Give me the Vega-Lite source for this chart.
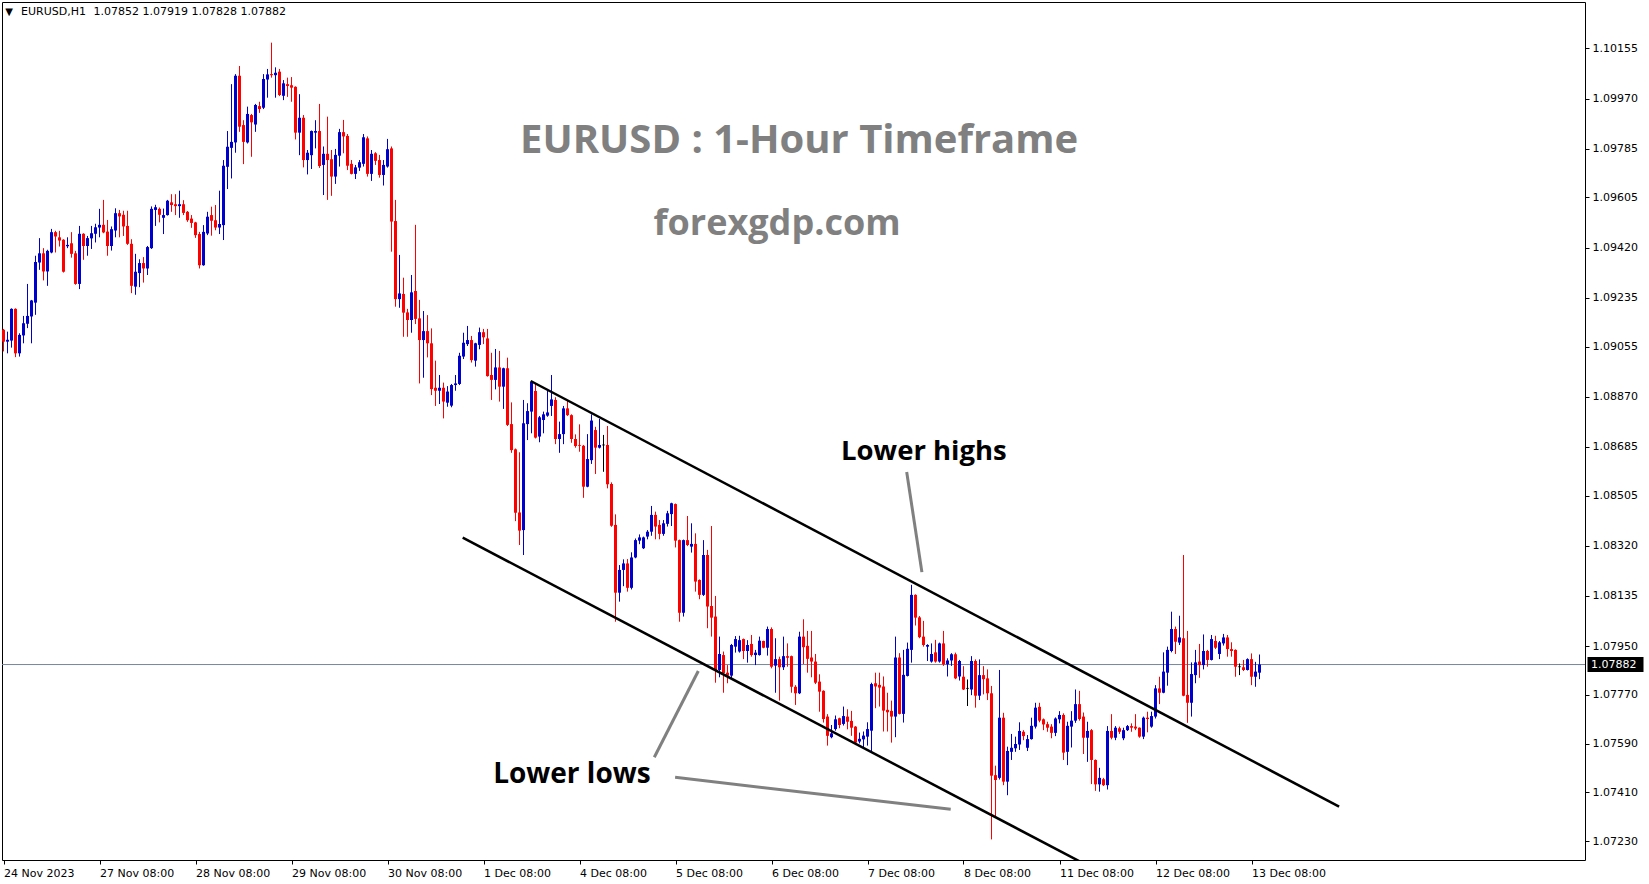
{
"$schema": "https://vega.github.io/schema/vega-lite/v6.json",
"width": 1583, "height": 858,
"autosize": {"type": "none"},
"padding": {"left": 2, "top": 2, "right": 64, "bottom": 24},
"background": "white",
"config": {"view": {"stroke": "black", "strokeWidth": 1}, "scale": {"continuousPadding": 0}},
"datasets": {
"candles": [
{"i":0,"o":1.09117,"h":1.09120,"l":1.09037,"c":1.09073},
{"i":1,"o":1.09073,"h":1.09110,"l":1.09030,"c":1.09080},
{"i":2,"o":1.09077,"h":1.09196,"l":1.09051,"c":1.09194},
{"i":3,"o":1.09194,"h":1.09196,"l":1.09016,"c":1.09030},
{"i":4,"o":1.09030,"h":1.09104,"l":1.09018,"c":1.09098},
{"i":5,"o":1.09096,"h":1.09168,"l":1.09067,"c":1.09141},
{"i":6,"o":1.09139,"h":1.09286,"l":1.09123,"c":1.09168},
{"i":7,"o":1.09166,"h":1.09227,"l":1.09067,"c":1.09225},
{"i":8,"o":1.09217,"h":1.09390,"l":1.09172,"c":1.09367},
{"i":9,"o":1.09365,"h":1.09455,"l":1.09338,"c":1.09399},
{"i":10,"o":1.09399,"h":1.09418,"l":1.09299,"c":1.09332},
{"i":11,"o":1.09332,"h":1.09412,"l":1.09279,"c":1.09408},
{"i":12,"o":1.09402,"h":1.09489,"l":1.09399,"c":1.09477},
{"i":13,"o":1.09477,"h":1.09482,"l":1.09402,"c":1.09461},
{"i":14,"o":1.09458,"h":1.09482,"l":1.09424,"c":1.09446},
{"i":15,"o":1.09449,"h":1.09451,"l":1.09328,"c":1.09331},
{"i":16,"o":1.09425,"h":1.09458,"l":1.09418,"c":1.09430},
{"i":17,"o":1.09436,"h":1.09477,"l":1.09383,"c":1.09397},
{"i":18,"o":1.09399,"h":1.09408,"l":1.09283,"c":1.09286},
{"i":19,"o":1.09286,"h":1.09500,"l":1.09267,"c":1.09471},
{"i":20,"o":1.09471,"h":1.09473,"l":1.09375,"c":1.09426},
{"i":21,"o":1.09426,"h":1.09463,"l":1.09390,"c":1.09455},
{"i":22,"o":1.09454,"h":1.09500,"l":1.09415,"c":1.09473},
{"i":23,"o":1.09471,"h":1.09508,"l":1.09439,"c":1.09495},
{"i":24,"o":1.09494,"h":1.09563,"l":1.09458,"c":1.09504},
{"i":25,"o":1.09504,"h":1.09596,"l":1.09473,"c":1.09476},
{"i":26,"o":1.09479,"h":1.09522,"l":1.09390,"c":1.09426},
{"i":27,"o":1.09426,"h":1.09498,"l":1.09409,"c":1.09488},
{"i":28,"o":1.09483,"h":1.09565,"l":1.09458,"c":1.09547},
{"i":29,"o":1.09547,"h":1.09559,"l":1.09458,"c":1.09535},
{"i":30,"o":1.09541,"h":1.09556,"l":1.09463,"c":1.09498},
{"i":31,"o":1.09500,"h":1.09556,"l":1.09430,"c":1.09434},
{"i":32,"o":1.09434,"h":1.09451,"l":1.09252,"c":1.09279},
{"i":33,"o":1.09276,"h":1.09397,"l":1.09246,"c":1.09331},
{"i":34,"o":1.09326,"h":1.09377,"l":1.09274,"c":1.09363},
{"i":35,"o":1.09363,"h":1.09385,"l":1.09291,"c":1.09343},
{"i":36,"o":1.09343,"h":1.09426,"l":1.09319,"c":1.09422},
{"i":37,"o":1.09418,"h":1.09572,"l":1.09415,"c":1.09563},
{"i":38,"o":1.09559,"h":1.09578,"l":1.09500,"c":1.09569},
{"i":39,"o":1.09563,"h":1.09568,"l":1.09513,"c":1.09541},
{"i":40,"o":1.09530,"h":1.09564,"l":1.09470,"c":1.09540},
{"i":41,"o":1.09540,"h":1.09596,"l":1.09538,"c":1.09593},
{"i":42,"o":1.09587,"h":1.09617,"l":1.09552,"c":1.09577},
{"i":43,"o":1.09580,"h":1.09617,"l":1.09540,"c":1.09573},
{"i":44,"o":1.09573,"h":1.09630,"l":1.09530,"c":1.09580},
{"i":45,"o":1.09580,"h":1.09595,"l":1.09540,"c":1.09548},
{"i":46,"o":1.09552,"h":1.09555,"l":1.09515,"c":1.09521},
{"i":47,"o":1.09527,"h":1.09540,"l":1.09493,"c":1.09511},
{"i":48,"o":1.09513,"h":1.09515,"l":1.09456,"c":1.09466},
{"i":49,"o":1.09470,"h":1.09478,"l":1.09343,"c":1.09355},
{"i":50,"o":1.09355,"h":1.09503,"l":1.09353,"c":1.09478},
{"i":51,"o":1.09472,"h":1.09552,"l":1.09466,"c":1.09534},
{"i":52,"o":1.09540,"h":1.09571,"l":1.09464,"c":1.09519},
{"i":53,"o":1.09521,"h":1.09577,"l":1.09484,"c":1.09494},
{"i":54,"o":1.09494,"h":1.09630,"l":1.09470,"c":1.09507},
{"i":55,"o":1.09503,"h":1.09743,"l":1.09448,"c":1.09722},
{"i":56,"o":1.09718,"h":1.09850,"l":1.09636,"c":1.09792},
{"i":57,"o":1.09788,"h":1.10023,"l":1.09675,"c":1.09810},
{"i":58,"o":1.09808,"h":1.10060,"l":1.09770,"c":1.10054},
{"i":59,"o":1.10054,"h":1.10090,"l":1.09847,"c":1.09866},
{"i":60,"o":1.09872,"h":1.09890,"l":1.09728,"c":1.09810},
{"i":61,"o":1.09808,"h":1.09940,"l":1.09804,"c":1.09913},
{"i":62,"o":1.09909,"h":1.09913,"l":1.09755,"c":1.09882},
{"i":63,"o":1.09874,"h":1.09950,"l":1.09847,"c":1.09946},
{"i":64,"o":1.09942,"h":1.09958,"l":1.09917,"c":1.09931},
{"i":65,"o":1.09936,"h":1.10060,"l":1.09931,"c":1.10042},
{"i":66,"o":1.10040,"h":1.10079,"l":1.09973,"c":1.10059},
{"i":67,"o":1.10060,"h":1.10176,"l":1.10047,"c":1.10056},
{"i":68,"o":1.10056,"h":1.10085,"l":1.09973,"c":1.10065},
{"i":69,"o":1.10069,"h":1.10079,"l":1.09979,"c":1.09983},
{"i":70,"o":1.09980,"h":1.10038,"l":1.09964,"c":1.10026},
{"i":71,"o":1.10023,"h":1.10047,"l":1.09976,"c":1.10016},
{"i":72,"o":1.10019,"h":1.10049,"l":1.09958,"c":1.10010},
{"i":73,"o":1.10013,"h":1.10015,"l":1.09819,"c":1.09844},
{"i":74,"o":1.09844,"h":1.09986,"l":1.09761,"c":1.09899},
{"i":75,"o":1.09899,"h":1.09909,"l":1.09716,"c":1.09743},
{"i":76,"o":1.09743,"h":1.09780,"l":1.09690,"c":1.09770},
{"i":77,"o":1.09761,"h":1.09852,"l":1.09710,"c":1.09850},
{"i":78,"o":1.09844,"h":1.09890,"l":1.09786,"c":1.09850},
{"i":79,"o":1.09850,"h":1.09950,"l":1.09714,"c":1.09721},
{"i":80,"o":1.09725,"h":1.09793,"l":1.09614,"c":1.09766},
{"i":81,"o":1.09766,"h":1.09903,"l":1.09596,"c":1.09743},
{"i":82,"o":1.09746,"h":1.09780,"l":1.09611,"c":1.09682},
{"i":83,"o":1.09682,"h":1.09784,"l":1.09655,"c":1.09762},
{"i":84,"o":1.09759,"h":1.09858,"l":1.09719,"c":1.09846},
{"i":85,"o":1.09846,"h":1.09891,"l":1.09768,"c":1.09830},
{"i":86,"o":1.09832,"h":1.09839,"l":1.09706,"c":1.09722},
{"i":87,"o":1.09729,"h":1.09743,"l":1.09690,"c":1.09692},
{"i":88,"o":1.09692,"h":1.09725,"l":1.09673,"c":1.09716},
{"i":89,"o":1.09715,"h":1.09743,"l":1.09703,"c":1.09735},
{"i":90,"o":1.09729,"h":1.09839,"l":1.09719,"c":1.09827},
{"i":91,"o":1.09823,"h":1.09830,"l":1.09682,"c":1.09692},
{"i":92,"o":1.09692,"h":1.09780,"l":1.09666,"c":1.09766},
{"i":93,"o":1.09768,"h":1.09772,"l":1.09725,"c":1.09740},
{"i":94,"o":1.09743,"h":1.09762,"l":1.09678,"c":1.09688},
{"i":95,"o":1.09688,"h":1.09743,"l":1.09649,"c":1.09725},
{"i":96,"o":1.09719,"h":1.09821,"l":1.09715,"c":1.09783},
{"i":97,"o":1.09786,"h":1.09793,"l":1.09405,"c":1.09516},
{"i":98,"o":1.09518,"h":1.09596,"l":1.09202,"c":1.09230},
{"i":99,"o":1.09230,"h":1.09393,"l":1.09198,"c":1.09251},
{"i":100,"o":1.09249,"h":1.09309,"l":1.09091,"c":1.09180},
{"i":101,"o":1.09181,"h":1.09194,"l":1.09091,"c":1.09153},
{"i":102,"o":1.09153,"h":1.09319,"l":1.09106,"c":1.09255},
{"i":103,"o":1.09260,"h":1.09504,"l":1.09138,"c":1.09157},
{"i":104,"o":1.09159,"h":1.09227,"l":1.08919,"c":1.09079},
{"i":105,"o":1.09079,"h":1.09186,"l":1.08940,"c":1.09112},
{"i":106,"o":1.09112,"h":1.09171,"l":1.09015,"c":1.09067},
{"i":107,"o":1.09067,"h":1.09122,"l":1.08876,"c":1.08898},
{"i":108,"o":1.08903,"h":1.09003,"l":1.08836,"c":1.08892},
{"i":109,"o":1.08892,"h":1.08950,"l":1.08843,"c":1.08903},
{"i":110,"o":1.08903,"h":1.08922,"l":1.08790,"c":1.08852},
{"i":111,"o":1.08848,"h":1.08909,"l":1.08833,"c":1.08889},
{"i":112,"o":1.08837,"h":1.08917,"l":1.08831,"c":1.08913},
{"i":113,"o":1.08913,"h":1.08950,"l":1.08892,"c":1.08919},
{"i":114,"o":1.08917,"h":1.09032,"l":1.08913,"c":1.09021},
{"i":115,"o":1.09018,"h":1.09106,"l":1.09009,"c":1.09069},
{"i":116,"o":1.09064,"h":1.09131,"l":1.09057,"c":1.09079},
{"i":117,"o":1.09079,"h":1.09094,"l":1.08996,"c":1.09005},
{"i":118,"o":1.09003,"h":1.09069,"l":1.08981,"c":1.09067},
{"i":119,"o":1.09061,"h":1.09125,"l":1.09045,"c":1.09108},
{"i":120,"o":1.09108,"h":1.09120,"l":1.09064,"c":1.09089},
{"i":121,"o":1.09085,"h":1.09120,"l":1.08944,"c":1.08946},
{"i":122,"o":1.08950,"h":1.09032,"l":1.08858,"c":1.08932},
{"i":123,"o":1.08932,"h":1.09046,"l":1.08897,"c":1.08978},
{"i":124,"o":1.08978,"h":1.09039,"l":1.08852,"c":1.08907},
{"i":125,"o":1.08907,"h":1.08977,"l":1.08825,"c":1.08975},
{"i":126,"o":1.08975,"h":1.09014,"l":1.08762,"c":1.08766},
{"i":127,"o":1.08769,"h":1.08849,"l":1.08663,"c":1.08673},
{"i":128,"o":1.08676,"h":1.08679,"l":1.08411,"c":1.08442},
{"i":129,"o":1.08443,"h":1.08665,"l":1.08323,"c":1.08376},
{"i":130,"o":1.08378,"h":1.08858,"l":1.08286,"c":1.08772},
{"i":131,"o":1.08769,"h":1.08846,"l":1.08710,"c":1.08817},
{"i":132,"o":1.08815,"h":1.08928,"l":1.08735,"c":1.08925},
{"i":133,"o":1.08891,"h":1.08919,"l":1.08716,"c":1.08719},
{"i":134,"o":1.08723,"h":1.08799,"l":1.08702,"c":1.08794},
{"i":135,"o":1.08784,"h":1.08815,"l":1.08735,"c":1.08805},
{"i":136,"o":1.08800,"h":1.08895,"l":1.08796,"c":1.08812},
{"i":137,"o":1.08836,"h":1.08950,"l":1.08799,"c":1.08860},
{"i":138,"o":1.08858,"h":1.08868,"l":1.08695,"c":1.08714},
{"i":139,"o":1.08714,"h":1.08778,"l":1.08663,"c":1.08732},
{"i":140,"o":1.08732,"h":1.08836,"l":1.08695,"c":1.08827},
{"i":141,"o":1.08827,"h":1.08855,"l":1.08799,"c":1.08802},
{"i":142,"o":1.08802,"h":1.08805,"l":1.08700,"c":1.08714},
{"i":143,"o":1.08714,"h":1.08731,"l":1.08682,"c":1.08688},
{"i":144,"o":1.08692,"h":1.08768,"l":1.08667,"c":1.08689},
{"i":145,"o":1.08689,"h":1.08692,"l":1.08497,"c":1.08538},
{"i":146,"o":1.08538,"h":1.08732,"l":1.08536,"c":1.08640},
{"i":147,"o":1.08636,"h":1.08805,"l":1.08622,"c":1.08782},
{"i":148,"o":1.08747,"h":1.08759,"l":1.08585,"c":1.08682},
{"i":149,"o":1.08682,"h":1.08788,"l":1.08679,"c":1.08692},
{"i":150,"o":1.08692,"h":1.08729,"l":1.08593,"c":1.08692},
{"i":151,"o":1.08692,"h":1.08762,"l":1.08532,"c":1.08547},
{"i":152,"o":1.08548,"h":1.08554,"l":1.08390,"c":1.08394},
{"i":153,"o":1.08397,"h":1.08436,"l":1.08040,"c":1.08147},
{"i":154,"o":1.08147,"h":1.08249,"l":1.08114,"c":1.08231},
{"i":155,"o":1.08231,"h":1.08270,"l":1.08171,"c":1.08255},
{"i":156,"o":1.08255,"h":1.08271,"l":1.08151,"c":1.08165},
{"i":157,"o":1.08165,"h":1.08296,"l":1.08159,"c":1.08277},
{"i":158,"o":1.08277,"h":1.08347,"l":1.08274,"c":1.08341},
{"i":159,"o":1.08339,"h":1.08362,"l":1.08326,"c":1.08351},
{"i":160,"o":1.08311,"h":1.08354,"l":1.08308,"c":1.08351},
{"i":161,"o":1.08354,"h":1.08378,"l":1.08344,"c":1.08372},
{"i":162,"o":1.08372,"h":1.08467,"l":1.08357,"c":1.08434},
{"i":163,"o":1.08434,"h":1.08446,"l":1.08344,"c":1.08391},
{"i":164,"o":1.08397,"h":1.08415,"l":1.08344,"c":1.08364},
{"i":165,"o":1.08364,"h":1.08415,"l":1.08357,"c":1.08403},
{"i":166,"o":1.08401,"h":1.08449,"l":1.08391,"c":1.08440},
{"i":167,"o":1.08437,"h":1.08479,"l":1.08393,"c":1.08477},
{"i":168,"o":1.08474,"h":1.08476,"l":1.08314,"c":1.08339},
{"i":169,"o":1.08341,"h":1.08343,"l":1.08040,"c":1.08073},
{"i":170,"o":1.08073,"h":1.08343,"l":1.08059,"c":1.08341},
{"i":171,"o":1.08341,"h":1.08430,"l":1.08319,"c":1.08323},
{"i":172,"o":1.08317,"h":1.08403,"l":1.08295,"c":1.08327},
{"i":173,"o":1.08327,"h":1.08366,"l":1.08151,"c":1.08188},
{"i":174,"o":1.08194,"h":1.08196,"l":1.08123,"c":1.08139},
{"i":175,"o":1.08139,"h":1.08341,"l":1.08135,"c":1.08286},
{"i":176,"o":1.08286,"h":1.08305,"l":1.08016,"c":1.08096},
{"i":177,"o":1.08098,"h":1.08393,"l":1.07985,"c":1.08055},
{"i":178,"o":1.08059,"h":1.08135,"l":1.07815,"c":1.07862},
{"i":179,"o":1.07862,"h":1.07985,"l":1.07835,"c":1.07921},
{"i":180,"o":1.07917,"h":1.07930,"l":1.07778,"c":1.07850},
{"i":181,"o":1.07852,"h":1.07880,"l":1.07813,"c":1.07841},
{"i":182,"o":1.07841,"h":1.07958,"l":1.07831,"c":1.07954},
{"i":183,"o":1.07948,"h":1.07987,"l":1.07926,"c":1.07976},
{"i":184,"o":1.07930,"h":1.07988,"l":1.07926,"c":1.07972},
{"i":185,"o":1.07976,"h":1.07978,"l":1.07902,"c":1.07932},
{"i":186,"o":1.07932,"h":1.07972,"l":1.07889,"c":1.07954},
{"i":187,"o":1.07958,"h":1.07991,"l":1.07911,"c":1.07917},
{"i":188,"o":1.07917,"h":1.07936,"l":1.07880,"c":1.07926},
{"i":189,"o":1.07917,"h":1.07985,"l":1.07915,"c":1.07970},
{"i":190,"o":1.07969,"h":1.07970,"l":1.07942,"c":1.07944},
{"i":191,"o":1.07944,"h":1.08022,"l":1.07915,"c":1.08013},
{"i":192,"o":1.08013,"h":1.08019,"l":1.07868,"c":1.07874},
{"i":193,"o":1.07878,"h":1.07979,"l":1.07778,"c":1.07902},
{"i":194,"o":1.07902,"h":1.07911,"l":1.07749,"c":1.07872},
{"i":195,"o":1.07872,"h":1.07985,"l":1.07862,"c":1.07913},
{"i":196,"o":1.07913,"h":1.07960,"l":1.07874,"c":1.07907},
{"i":197,"o":1.07913,"h":1.07915,"l":1.07778,"c":1.07800},
{"i":198,"o":1.07800,"h":1.07806,"l":1.07733,"c":1.07776},
{"i":199,"o":1.07776,"h":1.08003,"l":1.07773,"c":1.07985},
{"i":200,"o":1.07985,"h":1.08049,"l":1.07884,"c":1.07946},
{"i":201,"o":1.07951,"h":1.08006,"l":1.07852,"c":1.07903},
{"i":202,"o":1.07908,"h":1.08006,"l":1.07835,"c":1.07893},
{"i":203,"o":1.07893,"h":1.07921,"l":1.07810,"c":1.07815},
{"i":204,"o":1.07819,"h":1.07846,"l":1.07708,"c":1.07782},
{"i":205,"o":1.07785,"h":1.07787,"l":1.07668,"c":1.07681},
{"i":206,"o":1.07690,"h":1.07699,"l":1.07583,"c":1.07619},
{"i":207,"o":1.07614,"h":1.07659,"l":1.07610,"c":1.07628},
{"i":208,"o":1.07644,"h":1.07694,"l":1.07638,"c":1.07680},
{"i":209,"o":1.07684,"h":1.07686,"l":1.07647,"c":1.07659},
{"i":210,"o":1.07663,"h":1.07727,"l":1.07657,"c":1.07692},
{"i":211,"o":1.07690,"h":1.07717,"l":1.07643,"c":1.07671},
{"i":212,"o":1.07674,"h":1.07711,"l":1.07619,"c":1.07649},
{"i":213,"o":1.07653,"h":1.07655,"l":1.07585,"c":1.07594},
{"i":214,"o":1.07598,"h":1.07631,"l":1.07591,"c":1.07608},
{"i":215,"o":1.07606,"h":1.07635,"l":1.07573,"c":1.07620},
{"i":216,"o":1.07616,"h":1.07669,"l":1.07583,"c":1.07644},
{"i":217,"o":1.07638,"h":1.07815,"l":1.07561,"c":1.07810},
{"i":218,"o":1.07813,"h":1.07852,"l":1.07721,"c":1.07801},
{"i":219,"o":1.07807,"h":1.07852,"l":1.07727,"c":1.07797},
{"i":220,"o":1.07801,"h":1.07838,"l":1.07635,"c":1.07712},
{"i":221,"o":1.07715,"h":1.07778,"l":1.07635,"c":1.07706},
{"i":222,"o":1.07711,"h":1.07749,"l":1.07594,"c":1.07690},
{"i":223,"o":1.07690,"h":1.07985,"l":1.07614,"c":1.07908},
{"i":224,"o":1.07908,"h":1.07924,"l":1.07698,"c":1.07700},
{"i":225,"o":1.07700,"h":1.07936,"l":1.07668,"c":1.07844},
{"i":226,"o":1.07840,"h":1.07963,"l":1.07838,"c":1.07940},
{"i":227,"o":1.07936,"h":1.08176,"l":1.07889,"c":1.08139},
{"i":228,"o":1.08139,"h":1.08141,"l":1.08026,"c":1.08055},
{"i":229,"o":1.08056,"h":1.08061,"l":1.07979,"c":1.07983},
{"i":230,"o":1.07985,"h":1.08043,"l":1.07948,"c":1.07954},
{"i":231,"o":1.07948,"h":1.07957,"l":1.07895,"c":1.07954},
{"i":232,"o":1.07893,"h":1.07960,"l":1.07889,"c":1.07921},
{"i":233,"o":1.07927,"h":1.07973,"l":1.07889,"c":1.07893},
{"i":234,"o":1.07893,"h":1.07963,"l":1.07889,"c":1.07960},
{"i":235,"o":1.07960,"h":1.08006,"l":1.07877,"c":1.07883},
{"i":236,"o":1.07883,"h":1.07905,"l":1.07838,"c":1.07897},
{"i":237,"o":1.07897,"h":1.07924,"l":1.07877,"c":1.07920},
{"i":238,"o":1.07920,"h":1.07926,"l":1.07828,"c":1.07831},
{"i":239,"o":1.07838,"h":1.07899,"l":1.07823,"c":1.07895},
{"i":240,"o":1.07837,"h":1.07876,"l":1.07788,"c":1.07790},
{"i":241,"o":1.07794,"h":1.07827,"l":1.07729,"c":1.07794},
{"i":242,"o":1.07790,"h":1.07913,"l":1.07769,"c":1.07895},
{"i":243,"o":1.07895,"h":1.07901,"l":1.07723,"c":1.07767},
{"i":244,"o":1.07767,"h":1.07901,"l":1.07751,"c":1.07843},
{"i":245,"o":1.07843,"h":1.07876,"l":1.07772,"c":1.07828},
{"i":246,"o":1.07831,"h":1.07864,"l":1.07751,"c":1.07776},
{"i":247,"o":1.07776,"h":1.07803,"l":1.07237,"c":1.07472},
{"i":248,"o":1.07474,"h":1.07509,"l":1.07321,"c":1.07456},
{"i":249,"o":1.07464,"h":1.07862,"l":1.07458,"c":1.07686},
{"i":250,"o":1.07686,"h":1.07704,"l":1.07437,"c":1.07450},
{"i":251,"o":1.07450,"h":1.07579,"l":1.07400,"c":1.07563},
{"i":252,"o":1.07560,"h":1.07626,"l":1.07530,"c":1.07575},
{"i":253,"o":1.07573,"h":1.07616,"l":1.07560,"c":1.07589},
{"i":254,"o":1.07587,"h":1.07669,"l":1.07567,"c":1.07637},
{"i":255,"o":1.07634,"h":1.07640,"l":1.07603,"c":1.07618},
{"i":256,"o":1.07575,"h":1.07622,"l":1.07563,"c":1.07607},
{"i":257,"o":1.07607,"h":1.07686,"l":1.07605,"c":1.07656},
{"i":258,"o":1.07653,"h":1.07741,"l":1.07646,"c":1.07723},
{"i":259,"o":1.07726,"h":1.07741,"l":1.07669,"c":1.07675},
{"i":260,"o":1.07680,"h":1.07683,"l":1.07640,"c":1.07661},
{"i":261,"o":1.07662,"h":1.07671,"l":1.07634,"c":1.07649},
{"i":262,"o":1.07653,"h":1.07662,"l":1.07610,"c":1.07630},
{"i":263,"o":1.07630,"h":1.07687,"l":1.07618,"c":1.07683},
{"i":264,"o":1.07680,"h":1.07710,"l":1.07665,"c":1.07696},
{"i":265,"o":1.07696,"h":1.07702,"l":1.07530,"c":1.07557},
{"i":266,"o":1.07560,"h":1.07671,"l":1.07511,"c":1.07656},
{"i":267,"o":1.07653,"h":1.07710,"l":1.07576,"c":1.07675},
{"i":268,"o":1.07675,"h":1.07790,"l":1.07667,"c":1.07736},
{"i":269,"o":1.07736,"h":1.07785,"l":1.07675,"c":1.07681},
{"i":270,"o":1.07690,"h":1.07705,"l":1.07552,"c":1.07612},
{"i":271,"o":1.07612,"h":1.07671,"l":1.07523,"c":1.07637},
{"i":272,"o":1.07640,"h":1.07644,"l":1.07441,"c":1.07530},
{"i":273,"o":1.07530,"h":1.07532,"l":1.07416,"c":1.07440},
{"i":274,"o":1.07440,"h":1.07501,"l":1.07413,"c":1.07464},
{"i":275,"o":1.07459,"h":1.07464,"l":1.07434,"c":1.07437},
{"i":276,"o":1.07437,"h":1.07655,"l":1.07421,"c":1.07637},
{"i":277,"o":1.07637,"h":1.07699,"l":1.07606,"c":1.07612},
{"i":278,"o":1.07612,"h":1.07655,"l":1.07603,"c":1.07649},
{"i":279,"o":1.07647,"h":1.07653,"l":1.07626,"c":1.07634},
{"i":280,"o":1.07610,"h":1.07649,"l":1.07603,"c":1.07640},
{"i":281,"o":1.07640,"h":1.07659,"l":1.07637,"c":1.07655},
{"i":282,"o":1.07655,"h":1.07665,"l":1.07634,"c":1.07649},
{"i":283,"o":1.07653,"h":1.07699,"l":1.07640,"c":1.07646},
{"i":284,"o":1.07649,"h":1.07650,"l":1.07612,"c":1.07616},
{"i":285,"o":1.07616,"h":1.07690,"l":1.07607,"c":1.07686},
{"i":286,"o":1.07686,"h":1.07708,"l":1.07632,"c":1.07681},
{"i":287,"o":1.07653,"h":1.07708,"l":1.07649,"c":1.07692},
{"i":288,"o":1.07690,"h":1.07806,"l":1.07683,"c":1.07794},
{"i":289,"o":1.07794,"h":1.07837,"l":1.07736,"c":1.07778},
{"i":290,"o":1.07778,"h":1.07927,"l":1.07776,"c":1.07856},
{"i":291,"o":1.07852,"h":1.07948,"l":1.07804,"c":1.07936},
{"i":292,"o":1.07932,"h":1.08077,"l":1.07927,"c":1.08013},
{"i":293,"o":1.08013,"h":1.08022,"l":1.07921,"c":1.07966},
{"i":294,"o":1.07963,"h":1.08062,"l":1.07954,"c":1.07982},
{"i":295,"o":1.07979,"h":1.08286,"l":1.07765,"c":1.07767},
{"i":296,"o":1.07770,"h":1.08006,"l":1.07667,"c":1.07741},
{"i":297,"o":1.07741,"h":1.07890,"l":1.07690,"c":1.07847},
{"i":298,"o":1.07843,"h":1.07936,"l":1.07813,"c":1.07890},
{"i":299,"o":1.07893,"h":1.07958,"l":1.07833,"c":1.07880},
{"i":300,"o":1.07880,"h":1.07993,"l":1.07864,"c":1.07932},
{"i":301,"o":1.07932,"h":1.07936,"l":1.07874,"c":1.07899},
{"i":302,"o":1.07899,"h":1.07991,"l":1.07897,"c":1.07976},
{"i":303,"o":1.07969,"h":1.07988,"l":1.07939,"c":1.07944},
{"i":304,"o":1.07921,"h":1.07969,"l":1.07902,"c":1.07964},
{"i":305,"o":1.07960,"h":1.07995,"l":1.07952,"c":1.07982},
{"i":306,"o":1.07982,"h":1.07991,"l":1.07911,"c":1.07939},
{"i":307,"o":1.07939,"h":1.07964,"l":1.07911,"c":1.07932},
{"i":308,"o":1.07936,"h":1.07938,"l":1.07837,"c":1.07874},
{"i":309,"o":1.07874,"h":1.07886,"l":1.07843,"c":1.07874},
{"i":310,"o":1.07872,"h":1.07899,"l":1.07858,"c":1.07862},
{"i":311,"o":1.07862,"h":1.07905,"l":1.07860,"c":1.07902},
{"i":312,"o":1.07902,"h":1.07923,"l":1.07806,"c":1.07837},
{"i":313,"o":1.07837,"h":1.07892,"l":1.07800,"c":1.07856},
{"i":314,"o":1.07852,"h":1.07919,"l":1.07828,"c":1.07882}
],
"channel": [
{"s":"upper","i":131.8,"p":1.08928},{"s":"upper","i":333.9,"p":1.07358},
{"s":"lower","i":114.8,"p":1.08350},{"s":"lower","i":272,"p":1.07133}
],
"pointers": [
{"s":"a","i":225.8,"p":1.08592},{"s":"a","i":229.6,"p":1.08223},
{"s":"b","i":162.7,"p":1.07540},{"s":"b","i":173.7,"p":1.07858},
{"s":"c","i":167.9,"p":1.07466},{"s":"c","i":236.8,"p":1.07348}
]
},
"layer": [
{
"data": {"values": [{}]},
"mark": {"type": "rule", "color": "#778899", "strokeWidth": 1},
"encoding": {"y": {"datum": 1.07882, "type": "quantitative"}}
},
{
"data": {"name": "candles"},
"mark": {"type": "rule", "strokeWidth": 1},
"encoding": {
"x": {"field": "i", "type": "quantitative",
"scale": {"domain": [-0.375, 395.375], "nice": false, "zero": false, "padding": 0},
"axis": {"values": [0,24,48,72,96,120,144,168,192,216,240,264,288,312],
"labelExpr": "['24 Nov 2023','27 Nov 08:00','28 Nov 08:00','29 Nov 08:00','30 Nov 08:00','1 Dec 08:00','4 Dec 08:00','5 Dec 08:00','6 Dec 08:00','7 Dec 08:00','8 Dec 08:00','11 Dec 08:00','12 Dec 08:00','13 Dec 08:00'][round(datum.value/24)]",
"labelAlign": "left", "labelBaseline": "top", "labelPadding": 3, "labelFlush": false, "labelOverlap": false,
"labelFont": "DejaVu Sans", "labelFontSize": 11, "labelColor": "black",
"tickSize": 4, "tickColor": "black", "domain": false, "grid": false, "title": null}},
"y": {"field": "l", "type": "quantitative",
"scale": {"domain": [1.07161, 1.10326], "nice": false, "zero": false, "padding": 0},
"axis": {"orient": "right",
"values": [1.0723,1.0741,1.0759,1.0777,1.0795,1.08135,1.0832,1.08505,1.08685,1.0887,1.09055,1.09235,1.0942,1.09605,1.09785,1.0997,1.10155],
"format": ".5f", "labelFont": "DejaVu Sans", "labelFontSize": 11, "labelColor": "black",
"labelPadding": 3, "labelOverlap": false, "labelFlush": false,
"tickSize": 4, "tickColor": "black", "domain": false, "grid": false, "title": null}},
"y2": {"field": "h"},
"color": {"condition": [{"test": "datum.c > datum.o", "value": "#0000cd"}, {"test": "datum.c == datum.o", "value": "#000000"}], "value": "#ff0000"}
}
},
{
"data": {"name": "candles"},
"mark": {"type": "bar", "width": 3},
"encoding": {
"x": {"field": "i", "type": "quantitative"},
"y": {"field": "o", "type": "quantitative"},
"y2": {"field": "c"},
"color": {"condition": [{"test": "datum.c > datum.o", "value": "#0000cd"}, {"test": "datum.c == datum.o", "value": "#000000"}], "value": "#ff0000"}
}
},
{
"data": {"name": "candles"},
"transform": [{"filter": "datum.o == datum.c"}],
"mark": {"type": "tick", "orient": "horizontal", "size": 3, "thickness": 1, "color": "black"},
"encoding": {
"x": {"field": "i", "type": "quantitative"},
"y": {"field": "o", "type": "quantitative"}
}
},
{
"data": {"name": "channel"},
"mark": {"type": "line", "color": "black", "strokeWidth": 2.5, "clip": true, "strokeCap": "butt"},
"encoding": {
"x": {"field": "i", "type": "quantitative"},
"y": {"field": "p", "type": "quantitative"},
"detail": {"field": "s"}
}
},
{
"data": {"name": "pointers"},
"mark": {"type": "line", "color": "#808080", "strokeWidth": 3, "clip": true, "strokeCap": "butt"},
"encoding": {
"x": {"field": "i", "type": "quantitative"},
"y": {"field": "p", "type": "quantitative"},
"detail": {"field": "s"}
}
},
{
"data": {"values": [{}]},
"mark": {"type": "text", "font": "Open Sans", "fontWeight": "bold", "fontSize": 40, "color": "#808080", "align": "center", "baseline": "middle"},
"encoding": {"x": {"datum": 198.9, "type": "quantitative"}, "y": {"datum": 1.09812, "type": "quantitative"}, "text": {"value": "EURUSD : 1-Hour Timeframe"}}
},
{
"data": {"values": [{}]},
"mark": {"type": "text", "font": "Open Sans", "fontWeight": "bold", "fontSize": 36, "color": "#808080", "align": "center", "baseline": "middle"},
"encoding": {"x": {"datum": 193.4, "type": "quantitative"}, "y": {"datum": 1.09507, "type": "quantitative"}, "text": {"value": "forexgdp.com"}}
},
{
"data": {"values": [{}]},
"mark": {"type": "text", "font": "Open Sans", "fontWeight": "bold", "fontSize": 27.5, "color": "black", "align": "center", "baseline": "middle"},
"encoding": {"x": {"datum": 230.1, "type": "quantitative"}, "y": {"datum": 1.08665, "type": "quantitative"}, "text": {"value": "Lower highs"}}
},
{
"data": {"values": [{}]},
"mark": {"type": "text", "font": "Open Sans", "fontWeight": "bold", "fontSize": 28, "color": "black", "align": "center", "baseline": "middle"},
"encoding": {"x": {"datum": 142.1, "type": "quantitative"}, "y": {"datum": 1.07474, "type": "quantitative"}, "text": {"value": "Lower lows"}}
},
{
"data": {"values": [{}]},
"mark": {"type": "text", "font": "DejaVu Sans", "fontSize": 10, "color": "black", "align": "left", "baseline": "middle"},
"encoding": {"x": {"datum": 0.45, "type": "quantitative"}, "y": {"datum": 1.10289, "type": "quantitative"}, "text": {"value": "▼"}}
},
{
"data": {"values": [{}]},
"mark": {"type": "text", "font": "DejaVu Sans", "fontSize": 11, "color": "black", "align": "left", "baseline": "middle"},
"encoding": {"x": {"datum": 4.375, "type": "quantitative"}, "y": {"datum": 1.10289, "type": "quantitative"}, "text": {"value": "EURUSD,H1"}}
},
{
"data": {"values": [{}]},
"mark": {"type": "text", "font": "DejaVu Sans", "fontSize": 11, "color": "black", "align": "left", "baseline": "middle"},
"encoding": {"x": {"datum": 22.5, "type": "quantitative"}, "y": {"datum": 1.10289, "type": "quantitative"}, "text": {"value": "1.07852 1.07919 1.07828 1.07882"}}
},
{
"data": {"values": [{}]},
"mark": {"type": "rule", "color": "black", "strokeWidth": 15, "strokeCap": "butt"},
"encoding": {"x": {"datum": 396, "type": "quantitative"}, "x2": {"datum": 410}, "y": {"datum": 1.07882, "type": "quantitative"}}
},
{
"data": {"values": [{}]},
"mark": {"type": "text", "font": "DejaVu Sans", "fontSize": 11, "color": "white", "align": "left", "baseline": "middle"},
"encoding": {"x": {"datum": 396.9, "type": "quantitative"}, "y": {"datum": 1.07882, "type": "quantitative"}, "text": {"value": "1.07882"}}
}
]
}
